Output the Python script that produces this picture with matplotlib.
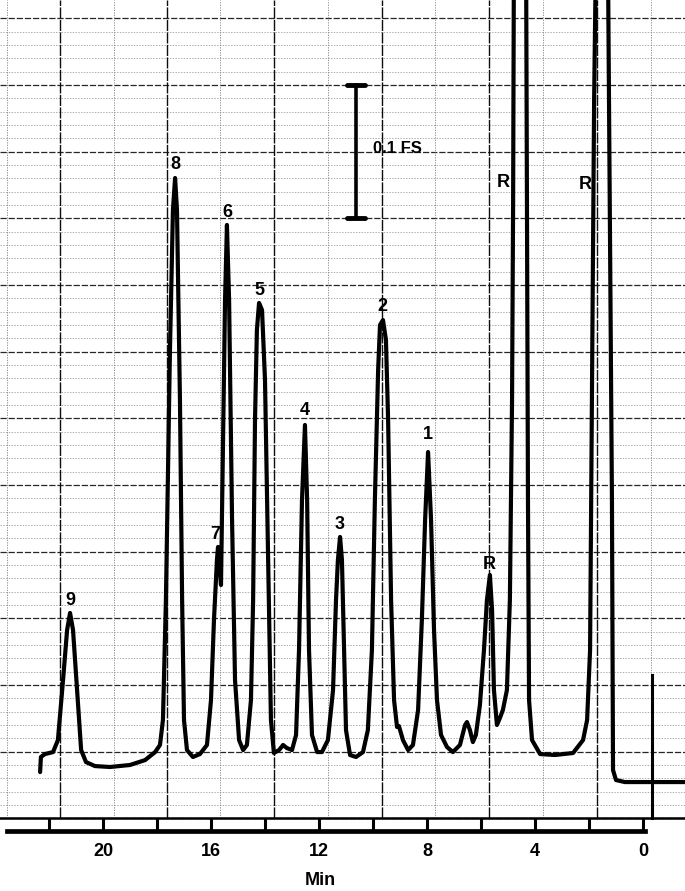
import matplotlib.pyplot as plt
import numpy as np

plt.rcParams["font.family"] = ["Liberation Sans", "DejaVu Sans"]

# recorder trace: time (min), signal (% of full scale)
trace_min = [
    22.33, 22.30, 22.15, 21.85, 21.67, 21.48, 21.33, 21.22, 21.11, 20.96,
    20.81, 20.63, 20.30, 19.74, 19.00, 18.44, 18.07, 17.89, 17.78, 17.67,
    17.52, 17.41, 17.33, 17.26, 17.15, 17.07, 17.00, 16.89, 16.67, 16.41,
    16.15, 16.00, 15.89, 15.78, 15.74, 15.67, 15.63, 15.56, 15.48, 15.41,
    15.33, 15.22, 15.11, 14.96, 14.81, 14.67, 14.52, 14.44, 14.37, 14.30,
    14.22, 14.11, 14.00, 13.89, 13.78, 13.67, 13.48, 13.33, 13.19, 13.00,
    12.85, 12.74, 12.63, 12.52, 12.44, 12.37, 12.26, 12.07, 11.89, 11.67,
    11.48, 11.37, 11.30, 11.22, 11.15, 11.07, 11.00, 10.85, 10.63, 10.37,
    10.19, 10.04, 9.93, 9.81, 9.74, 9.63, 9.52, 9.44, 9.33, 9.22,
    9.11, 9.04, 8.89, 8.70, 8.52, 8.33, 8.19, 8.07, 7.96, 7.85,
    7.74, 7.63, 7.48, 7.26, 7.04, 6.78, 6.59, 6.52, 6.41, 6.30,
    6.19, 6.04, 5.89, 5.78, 5.67, 5.59, 5.52, 5.41, 5.30, 5.19,
    5.04, 4.93, 4.85, 4.81, 4.78, 4.33, 4.30, 4.26, 4.22, 4.11,
    3.81, 3.26, 2.59, 2.22, 2.07, 1.96, 1.89, 1.81, 1.74, 1.30,
    1.22, 1.15, 1.11, 1.00, 0.67, -1.56,
]
trace_pct = [
    3.47, 4.60, 4.82, 4.97, 5.87, 10.37, 14.12, 15.40, 14.12, 9.62,
    5.12, 4.22, 3.92, 3.85, 4.00, 4.37, 4.97, 5.50, 7.37, 16.37,
    35.12, 45.62, 48.02, 45.62, 31.37, 16.37, 7.37, 5.12, 4.60, 4.82,
    5.50, 8.87, 14.87, 19.37, 20.35, 18.62, 17.50, 27.62, 38.87, 44.50,
    38.87, 22.37, 10.37, 5.87, 5.12, 5.50, 8.87, 16.37, 29.87, 36.62,
    38.65, 38.12, 32.87, 20.12, 7.37, 4.90, 5.12, 5.50, 5.27, 5.12,
    6.25, 12.62, 23.87, 29.50, 23.87, 12.62, 6.25, 4.97, 4.97, 5.87,
    9.62, 16.37, 19.37, 21.10, 19.37, 12.62, 6.62, 4.75, 4.60, 4.97,
    6.62, 12.62, 23.87, 33.62, 37.00, 37.37, 35.87, 29.87, 16.37, 8.87,
    6.85, 6.92, 5.87, 5.12, 5.50, 8.12, 14.87, 22.37, 27.47, 22.37,
    14.12, 8.87, 6.25, 5.35, 4.97, 5.50, 7.00, 7.22, 6.62, 5.72,
    6.25, 8.50, 12.62, 16.37, 18.25, 15.62, 9.62, 7.00, 7.52, 8.12,
    9.62, 16.37, 31.37, 46.37, 65.12, 65.12, 46.37, 23.87, 8.87, 5.87,
    4.82, 4.75, 4.90, 5.87, 7.37, 12.62, 31.37, 53.87, 65.12, 65.12,
    43.37, 23.87, 3.62, 2.87, 2.72, 2.72,
]

peak_names = ["9", "8", "7", "6", "5", "4", "3", "2", "1", "R", "R", "R"]
peak_label_min = [21.22, 17.33, 15.85, 15.41, 14.22, 12.52, 11.22, 9.67, 7.96, 5.70, 5.19, 2.15]
peak_label_pct = [16.37, 49.0, 21.25, 45.47, 39.62, 30.62, 22.07, 38.35, 28.82, 19.0, 47.65, 47.5]

inject_min = -0.33
inject_pct = [0, 10.75]

scale_bar_min = 10.63
scale_bar_pct = [45, 55]
scale_bar_text = "0.1 FS"

time_ticks = list(range(0, 23, 2))
time_labels = [str(t) if t % 4 == 0 and t <= 20 else "" for t in time_ticks]

# chart paper rulings
paper_major_min = [21.59, 17.63, 13.67, 9.67, 5.70, 1.70]
paper_minor_min = [23.57, 19.61, 15.65, 11.67, 7.69, 3.70, -0.28]
paper_rows = list(range(0, 61))

fig = plt.figure(figsize=(6.85, 8.91), dpi=100)
ax = fig.add_axes([0, 60 / 891, 1, 831 / 891])
ax.set_xlim(23.815, -1.556)
ax.set_ylim(-0.95, 61.37)

for r in paper_rows:
    if r % 5 == 0:
        ax.axhline(r, color="0.15", lw=0.9, ls=(0, (5, 1.5)), zorder=1)
    else:
        ax.axhline(r, color="0.55", lw=0.5, ls=(0, (2, 2)), zorder=1)
for m in paper_major_min:
    ax.plot([m, m], [0, 61.37], color="0.05", lw=1.0, ls=(0, (8, 1)), zorder=1)
for m in paper_minor_min:
    ax.plot([m, m], [0, 61.37], color="0.5", lw=0.6, ls=(0, (1.5, 1.5)), zorder=1)
ax.axhline(0, color="k", lw=1.8, zorder=2)

ax.plot(trace_min, trace_pct, color="k", lw=3.0,
        solid_joinstyle="round", solid_capstyle="round", zorder=3)
ax.plot([inject_min, inject_min], inject_pct, color="k", lw=2.2, zorder=3)

for name, t, y in zip(peak_names, peak_label_min, peak_label_pct):
    ax.text(t, y, name, ha="center", va="center", fontsize=13,
            fontweight="bold", zorder=4)

ax.plot([scale_bar_min] * 2, scale_bar_pct, color="k", lw=2.6, zorder=4)
for y in scale_bar_pct:
    ax.plot([scale_bar_min + 0.33, scale_bar_min - 0.33], [y, y],
            color="k", lw=3.5, solid_capstyle="round", zorder=4)
ax.text(scale_bar_min - 0.63, np.mean(scale_bar_pct) + 0.27, scale_bar_text,
        ha="left", va="center", fontsize=12, fontweight="bold", zorder=4)

for side in ["top", "left", "right"]:
    ax.spines[side].set_visible(False)
ax.spines["bottom"].set_linewidth(3.4)
ax.spines["bottom"].set_bounds(23.56, -0.07)
ax.set_yticks([])
ax.set_xticks(time_ticks)
ax.set_xticklabels(time_labels, fontsize=13, fontweight="bold")
ax.tick_params(axis="x", direction="in", length=9.5, width=2.2, pad=9)
ax.set_xlabel("Min", fontsize=13, fontweight="bold")
ax.xaxis.set_label_coords(320 / 685, -0.049)

fig.savefig("out.png", dpi=100)
